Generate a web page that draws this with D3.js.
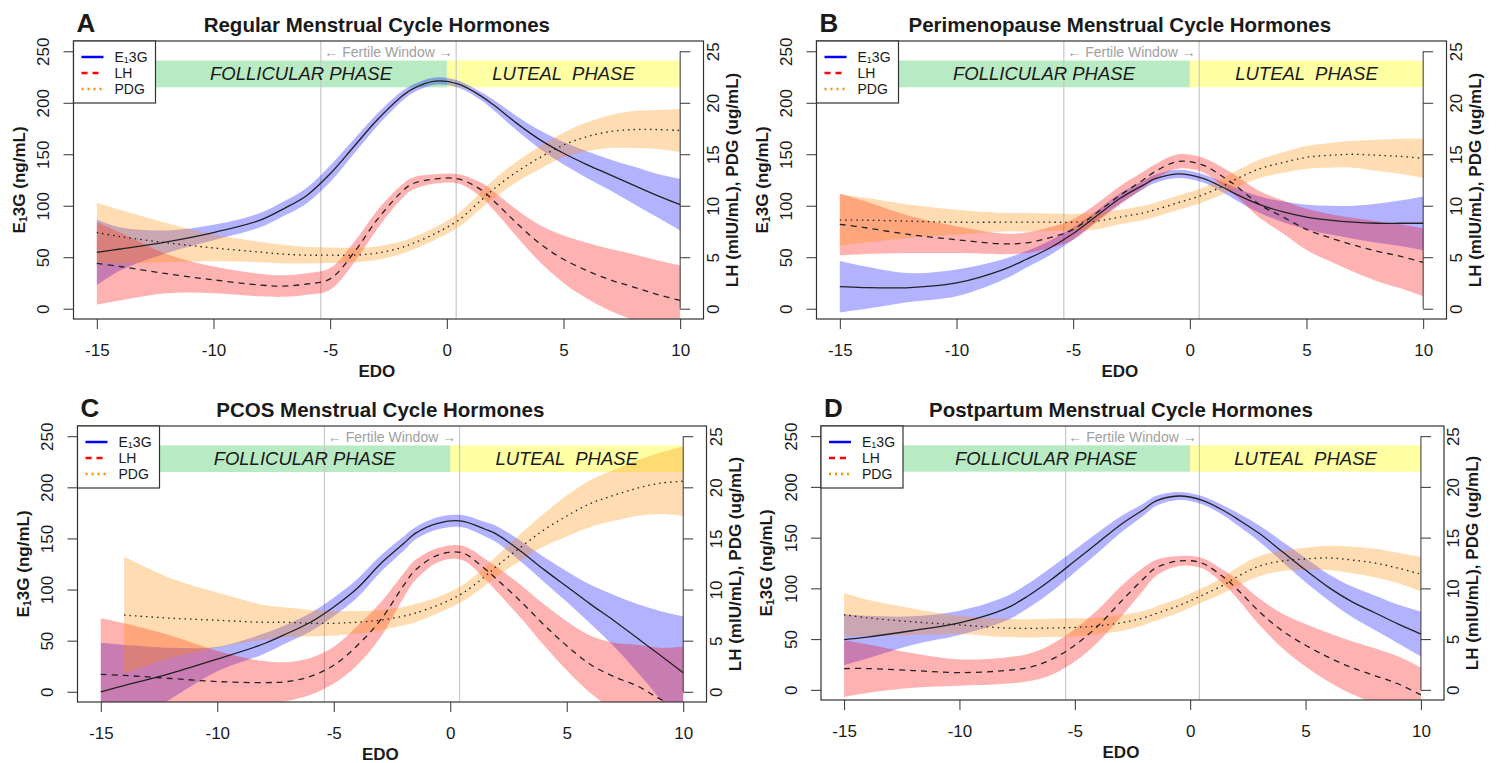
<!DOCTYPE html>
<html>
<head>
<meta charset="utf-8">
<script src="https://cdn.jsdelivr.net/npm/d3@7"></script>
<style>
  body { margin: 0; background: #fff; }
  text { font-family: "Liberation Sans", Arial, sans-serif; fill: #1a1a1a; }
</style>
</head>
<body>
<svg width="1497" height="763"></svg>
<script>
// days relative to estimated day of ovulation
const edo = [-15, -14, -12, -10, -8, -7, -6, -5, -4, -3, -2, -1.5, -0.5, 0.5, 1.5, 2, 3, 4, 5, 6, 7, 8, 9, 10];

// A - regular
const regE1 = [54.7, 58, 65, 74, 86, 97, 110, 131, 157, 183, 205, 213, 221, 218, 206, 198, 180, 164, 151, 140, 130, 120, 110, 101];
const regE1Ci = [32, 21, 11, 7.5, 7, 7, 7.5, 8, 7, 6, 5, 4, 3.5, 3.5, 4, 5, 7, 9, 11, 13, 15, 18, 21, 25];
const regLH = [4.4, 4.1, 3.4, 2.8, 2.3, 2.2, 2.4, 2.9, 5.4, 8.6, 11.2, 12.1, 12.6, 12.6, 11.5, 10.5, 8.3, 6.3, 4.8, 3.7, 2.8, 2.1, 1.4, 0.8];
const regLHCi = [4.0, 3.3, 1.9, 1.3, 1.1, 1.05, 1.05, 1.05, 1.0, 0.9, 0.7, 0.6, 0.45, 0.45, 0.7, 0.9, 1.3, 1.8, 2.3, 2.7, 3.0, 3.2, 3.3, 3.4];
const regPDG = [7.4, 7.0, 6.4, 5.9, 5.5, 5.3, 5.2, 5.2, 5.2, 5.4, 5.9, 6.3, 7.3, 8.6, 10.6, 11.6, 13.3, 14.7, 15.9, 16.7, 17.2, 17.4, 17.4, 17.3];
const regPDGCi = [2.9, 2.6, 1.9, 1.3, 1.0, 0.9, 0.8, 0.75, 0.7, 0.65, 0.6, 0.6, 0.6, 0.7, 0.8, 0.9, 1.0, 1.1, 1.2, 1.4, 1.6, 1.8, 1.9, 2.1];

// B - perimenopause
const periE1 = [21.4, 20.5, 20.5, 25, 38, 48, 59, 73, 90, 107, 120, 126, 131, 127, 117, 111, 101, 94, 89, 86, 84, 83, 83, 83];
const periE1Ci = [25, 21, 14, 13, 10, 8, 7, 6, 5, 5, 4, 4, 4, 4, 5, 6, 8, 10, 12, 14, 16, 19, 22, 26];
const periLH = [8.2, 7.9, 7.2, 6.7, 6.3, 6.4, 6.9, 7.7, 9.3, 11.0, 12.5, 13.3, 14.3, 14.0, 12.7, 11.9, 10.1, 8.9, 7.7, 6.9, 6.2, 5.6, 5.1, 4.5];
const periLHCi = [3.0, 2.6, 1.8, 1.3, 1.0, 1.0, 1.0, 1.0, 0.9, 0.9, 0.8, 0.7, 0.7, 0.7, 0.9, 1.0, 1.3, 1.6, 2.0, 2.3, 2.6, 2.9, 3.1, 3.3];
const periPDG = [8.6, 8.6, 8.5, 8.4, 8.4, 8.4, 8.4, 8.4, 8.5, 8.9, 9.3, 9.6, 10.3, 11.0, 12.0, 12.6, 13.6, 14.2, 14.7, 14.9, 15.0, 14.9, 14.8, 14.6];
const periPDGCi = [2.5, 2.2, 1.6, 1.2, 0.9, 0.9, 0.85, 0.8, 0.8, 0.7, 0.7, 0.7, 0.7, 0.7, 0.8, 0.8, 0.9, 1.0, 1.1, 1.2, 1.3, 1.5, 1.7, 1.9];

// C - PCOS
const pcosE1 = [0, 6, 18, 32, 47, 57, 68, 83, 101, 125, 145, 155, 165, 167, 159, 154, 138, 120, 103, 86, 70, 53, 36, 18.7];
const pcosE1Ci = [48, 40, 25, 12, 10, 9, 9, 9, 9, 8, 7, 6, 6, 6, 7, 8, 10, 12, 15, 19, 25, 33, 43, 55];
const pcosLH = [1.7, 1.6, 1.3, 1.0, 0.9, 1.0, 1.5, 2.6, 4.5, 7.0, 10.4, 11.9, 13.4, 13.6, 12.0, 11.0, 8.9, 6.6, 4.5, 2.7, 1.5, 0.6, -0.7, -1.8];
const pcosLHCi = [5.5, 5.1, 4.2, 3.0, 2.1, 1.9, 1.8, 1.8, 1.9, 1.7, 1.2, 1.0, 0.7, 0.7, 1.0, 1.2, 1.6, 2.0, 2.4, 2.8, 3.3, 4.0, 5.0, 6.2];
const pcosPDG = [null, 7.5, 7.2, 7.0, 6.8, 6.8, 6.7, 6.7, 6.8, 7.0, 7.4, 7.7, 8.5, 9.6, 11.3, 12.3, 14.1, 15.8, 17.2, 18.4, 19.2, 19.9, 20.4, 20.6];
const pcosPDGCi = [null, 5.7, 3.9, 2.7, 1.7, 1.45, 1.3, 1.2, 1.1, 1.0, 0.9, 0.9, 0.8, 0.8, 0.9, 1.0, 1.3, 1.6, 2.0, 2.3, 2.5, 2.7, 3.0, 3.4];

// D - postpartum
const postE1 = [49.5, 52, 58.5, 66, 80, 93, 109, 127, 145, 163, 178, 186, 191, 187, 176, 169, 154, 136, 118, 101, 87, 76, 65, 55];
const postE1Ci = [25, 21, 14, 12, 12, 12, 12, 11, 10, 8, 6, 5, 4, 4, 5, 6, 8, 10, 12, 13, 15, 17, 19, 22];
const postLH = [2.1, 2.1, 1.9, 1.7, 1.9, 2.2, 3.0, 4.4, 6.3, 8.7, 11.0, 12.0, 12.7, 12.5, 11.0, 10.0, 7.7, 5.8, 4.4, 3.2, 2.2, 1.4, 0.6, -0.5];
const postLHCi = [2.8, 2.4, 1.7, 1.3, 1.3, 1.35, 1.5, 1.6, 1.6, 1.5, 1.1, 0.8, 0.5, 0.5, 0.7, 0.9, 1.3, 1.7, 2.1, 2.4, 2.6, 2.7, 2.7, 2.7];
const postPDG = [7.4, 7.1, 6.7, 6.4, 6.1, 6.05, 6.1, 6.15, 6.3, 6.6, 7.1, 7.5, 8.3, 9.3, 10.4, 11.1, 12.2, 12.7, 12.9, 13.0, 12.8, 12.5, 12.0, 11.4];
const postPDGCi = [2.15, 1.8, 1.3, 0.9, 0.9, 0.9, 0.9, 0.9, 0.8, 0.8, 0.7, 0.7, 0.7, 0.7, 0.8, 0.9, 1.0, 1.0, 1.1, 1.2, 1.3, 1.4, 1.5, 1.7];

const xTicks = [-15, -10, -5, 0, 5, 10];
const yTicks = [0, 50, 100, 150, 200, 250];
const y2Ticks = [0, 5, 10, 15, 20, 25];
const fertileWindow = [-5.4, 0.4];
const follicular = [-12.5, 0];
const luteal = [0, 10];

const panels = [
	{ letter: 'A', title: 'Regular Menstrual Cycle Hormones', box: [73.5, 41, 703.5, 319],
		e1: regE1, e1Ci: regE1Ci, lh: regLH, lhCi: regLHCi, pdg: regPDG, pdgCi: regPDGCi },
	{ letter: 'B', title: 'Perimenopause Menstrual Cycle Hormones', box: [816.5, 41, 1446.5, 319],
		e1: periE1, e1Ci: periE1Ci, lh: periLH, lhCi: periLHCi, pdg: periPDG, pdgCi: periPDGCi },
	{ letter: 'C', title: 'PCOS Menstrual Cycle Hormones', box: [77.5, 426, 706.5, 702],
		e1: pcosE1, e1Ci: pcosE1Ci, lh: pcosLH, lhCi: pcosLHCi, pdg: pcosPDG, pdgCi: pcosPDGCi },
	{ letter: 'D', title: 'Postpartum Menstrual Cycle Hormones', box: [821, 426, 1444, 700],
		e1: postE1, e1Ci: postE1Ci, lh: postLH, lhCi: postLHCi, pdg: postPDG, pdgCi: postPDGCi }
];

const svg = d3.select('svg');
const curve = d3.curveCatmullRom.alpha(0.5);

panels.forEach((p, i) => {
	const [x0, y0, x1, y1] = p.box;
	const x = d3.scaleLinear().domain([-16, 11]).range([x0, x1]);
	const y = d3.scaleLinear().domain([-10, 260]).range([y1, y0]);
	const y2 = d3.scaleLinear().domain([-1, 26]).range([y1, y0]);
	const g = svg.append('g');

	g.append('clipPath')
		.attr('id', 'clip' + i)
		.append('rect')
		.attr('x', x0).attr('y', y0)
		.attr('width', x1 - x0).attr('height', y1 - y0);
	const plot = g.append('g').attr('clip-path', `url(#clip${i})`);

	// phase bands
	plot.append('rect')
		.attr('x', x(follicular[0])).attr('y', y(241))
		.attr('width', x(follicular[1]) - x(follicular[0]))
		.attr('height', y(215) - y(241))
		.attr('fill', 'rgba(0,180,40,0.28)');
	plot.append('rect')
		.attr('x', x(luteal[0])).attr('y', y(241))
		.attr('width', x(luteal[1]) - x(luteal[0]))
		.attr('height', y(215) - y(241))
		.attr('fill', 'rgba(255,255,0,0.36)');

	// fertile window lines
	plot.selectAll('.fw')
		.data(fertileWindow)
		.enter()
		.append('line')
		.attr('x1', d => x(d)).attr('x2', d => x(d))
		.attr('y1', y0).attr('y2', y1)
		.attr('stroke', '#c8c8c8')
		.attr('stroke-width', 1.2);

	const series = [
		{ mean: p.e1, ci: p.e1Ci, sc: y, fill: 'rgba(0,0,255,0.3)', dash: null },
		{ mean: p.lh, ci: p.lhCi, sc: y2, fill: 'rgba(255,0,0,0.3)', dash: '6,5' },
		{ mean: p.pdg, ci: p.pdgCi, sc: y2, fill: 'rgba(255,140,0,0.3)', dash: '1.5,4' }
	];

	series.forEach(s => {
		const area = d3.area()
			.defined((d, j) => s.mean[j] != null)
			.x((d, j) => x(edo[j]))
			.y0((d, j) => s.sc(s.mean[j] - s.ci[j]))
			.y1((d, j) => s.sc(s.mean[j] + s.ci[j]))
			.curve(curve);
		plot.append('path')
			.datum(edo)
			.attr('d', area)
			.attr('fill', s.fill);
	});

	series.forEach(s => {
		const line = d3.line()
			.defined((d, j) => s.mean[j] != null)
			.x((d, j) => x(edo[j]))
			.y((d, j) => s.sc(s.mean[j]))
			.curve(curve);
		plot.append('path')
			.datum(edo)
			.attr('d', line)
			.attr('fill', 'none')
			.attr('stroke', '#222')
			.attr('stroke-width', 1.3)
			.attr('stroke-linejoin', 'round')
			.attr('stroke-dasharray', s.dash);
	});

	// phase labels
	g.append('text')
		.attr('x', x((follicular[0] + follicular[1]) / 2))
		.attr('y', y(228))
		.attr('text-anchor', 'middle')
		.attr('dominant-baseline', 'central')
		.style('font-size', '18.5px')
		.style('font-style', 'italic')
		.text('FOLLICULAR PHASE');
	g.append('text')
		.attr('x', x((luteal[0] + luteal[1]) / 2))
		.attr('y', y(228))
		.attr('text-anchor', 'middle')
		.attr('dominant-baseline', 'central')
		.style('font-size', '18.5px')
		.style('font-style', 'italic')
		.style('white-space', 'pre')
		.text('LUTEAL  PHASE');
	g.append('text')
		.attr('x', x(d3.mean(fertileWindow)))
		.attr('y', y(249))
		.attr('text-anchor', 'middle')
		.attr('dominant-baseline', 'central')
		.style('font-size', '14px')
		.style('fill', '#a0a0a0')
		.text('\u2190 Fertile Window \u2192');

	// box
	g.append('rect')
		.attr('x', x0).attr('y', y0)
		.attr('width', x1 - x0).attr('height', y1 - y0)
		.attr('fill', 'none')
		.attr('stroke', '#333')
		.attr('stroke-width', 1.2);

	// x axis
	const xAxis = g.append('g')
		.attr('transform', `translate(0,${y1})`)
		.call(d3.axisBottom(x).tickValues(xTicks).tickFormat(d => String(d)).tickSize(10).tickPadding(15));
	xAxis.select('.domain').remove();
	xAxis.selectAll('line').attr('stroke', '#333');
	xAxis.selectAll('text').style('font-size', '17px').style('fill', '#1a1a1a');

	// left axis
	const yAxis = g.append('g')
		.attr('transform', `translate(${x0},0)`)
		.call(d3.axisLeft(y).tickValues(yTicks).tickSize(10));
	yAxis.select('.domain').remove();
	yAxis.selectAll('line').attr('stroke', '#333');
	yAxis.selectAll('text')
		.attr('x', 0).attr('dy', null)
		.attr('text-anchor', 'middle')
		.attr('dominant-baseline', 'central')
		.attr('transform', 'translate(-30,0) rotate(-90)')
		.style('font-size', '17px').style('fill', '#1a1a1a');

	// right axis sits on EDO = 10
	const rx = x(10);
	g.append('line')
		.attr('x1', rx).attr('x2', rx)
		.attr('y1', y2(0)).attr('y2', y2(25))
		.attr('stroke', '#333');
	const y2Axis = g.append('g')
		.attr('transform', `translate(${rx},0)`)
		.call(d3.axisRight(y2).tickValues(y2Ticks).tickSize(10));
	y2Axis.select('.domain').remove();
	y2Axis.selectAll('line').attr('stroke', '#333');
	y2Axis.selectAll('text')
		.attr('x', 0).attr('dy', null)
		.attr('text-anchor', 'middle')
		.attr('dominant-baseline', 'central')
		.attr('transform', 'translate(33,0) rotate(-90)')
		.style('font-size', '17px').style('fill', '#1a1a1a');

	// titles
	const cx = (x0 + rx) / 2;
	g.append('text')
		.attr('x', cx).attr('y', y0 - 9)
		.attr('text-anchor', 'middle')
		.style('font-size', '20.5px').style('font-weight', 'bold')
		.text(p.title);
	g.append('text')
		.attr('x', x0 + 3).attr('y', y0 - 9)
		.style('font-size', '26px').style('font-weight', 'bold')
		.text(p.letter);
	g.append('text')
		.attr('x', cx).attr('y', y1 + 58)
		.attr('text-anchor', 'middle')
		.style('font-size', '17px').style('font-weight', 'bold')
		.text('EDO');

	const yl = g.append('text')
		.attr('transform', `translate(${x0 - 55},${(y0 + y1) / 2}) rotate(-90)`)
		.attr('text-anchor', 'middle')
		.attr('dominant-baseline', 'central')
		.style('font-size', '17px').style('font-weight', 'bold');
	yl.append('tspan').text('E');
	yl.append('tspan').attr('dy', 4).style('font-size', '11px').text('1');
	yl.append('tspan').attr('dy', -4).text('3G (ng/mL)');

	g.append('text')
		.attr('transform', `translate(${rx + 52},${(y0 + y1) / 2}) rotate(-90)`)
		.attr('text-anchor', 'middle')
		.attr('dominant-baseline', 'central')
		.style('font-size', '17px').style('font-weight', 'bold')
		.text('LH (mIU/mL), PDG (ug/mL)');

	// legend
	const leg = g.append('g').attr('transform', `translate(${x0},${y0})`);
	leg.append('rect')
		.attr('width', 82).attr('height', 62)
		.attr('fill', '#fff')
		.attr('stroke', '#333')
		.attr('stroke-width', 1.2);
	const legItems = [
		{ color: 'blue', dash: null },
		{ color: 'red', dash: '6,5' },
		{ color: 'darkorange', dash: '2,4' }
	];
	leg.selectAll('line')
		.data(legItems)
		.enter()
		.append('line')
		.attr('x1', 8).attr('x2', 30)
		.attr('y1', (d, j) => 16 + j * 16).attr('y2', (d, j) => 16 + j * 16)
		.attr('stroke', d => d.color)
		.attr('stroke-width', 2.5)
		.attr('stroke-dasharray', d => d.dash);
	const t1 = leg.append('text').attr('x', 41).attr('y', 16).attr('dominant-baseline', 'central').style('font-size', '14px');
	t1.append('tspan').text('E');
	t1.append('tspan').attr('dy', 3).style('font-size', '9px').text('1');
	t1.append('tspan').attr('dy', -3).text('3G');
	leg.append('text').attr('x', 41).attr('y', 32).attr('dominant-baseline', 'central').style('font-size', '14px').text('LH');
	leg.append('text').attr('x', 41).attr('y', 48).attr('dominant-baseline', 'central').style('font-size', '14px').text('PDG');
});
</script>
</body>
</html>
